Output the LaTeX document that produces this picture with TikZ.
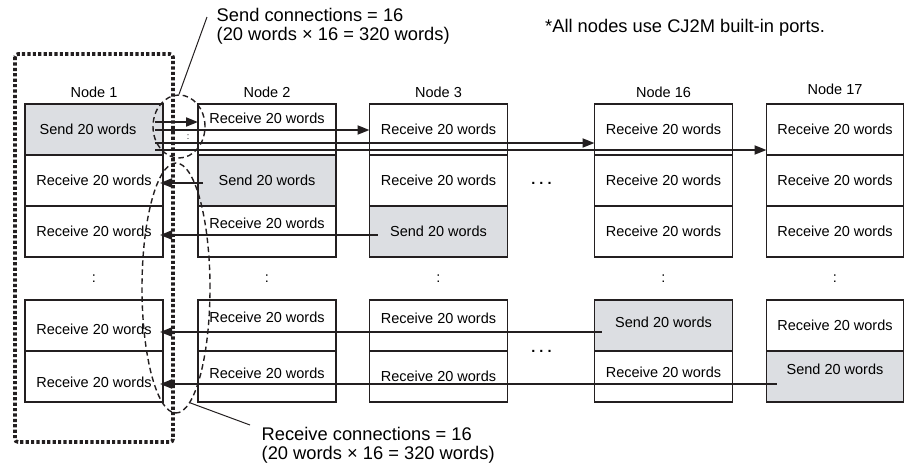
\documentclass[tikz,border=0pt]{standalone}
\usepackage{fontspec}
\setmainfont{Liberation Sans}
\usetikzlibrary{positioning, arrows.meta, shapes.geometric, calc}
\definecolor{ink}{RGB}{35,31,32}
\definecolor{sendgray}{RGB}{220,222,226}

\begin{document}
\begin{tikzpicture}[
        x=1pt, y=-1pt,
        word/.style={font=\fontsize{14.5}{17}\selectfont},
        note/.style={font=\fontsize{18.3}{19}\selectfont, align=left, inner sep=0pt},
        cell/.style={
            word,
            draw=ink,
            line width=1.8pt,
            minimum width=138pt,
            minimum height=51pt,
            inner sep=0pt,
            outer sep=0pt
        },
        sendcell/.style={cell, fill=sendgray},
        title/.style={word, inner sep=0pt},
        link/.style={ink, line width=1.8pt, -{Triangle[length=12pt,width=9pt]}},
        ring/.style={ellipse, draw=ink, line width=1.4pt, dash pattern=on 5.5pt off 3.5pt, inner sep=0pt},
        leader/.style={ink, line width=1pt},
        frame/.style={ink, line width=3.6pt, dash pattern=on 3.2pt off 2.2pt, rounded corners=3pt}
    ]
        \useasboundingbox (0,0) rectangle (904,466);

        % Node 1 column
        \node[sendcell, label={[word, xshift=-6pt]center:Send 20 words}] (n1a) at (94,129.5) {};
        \node[cell, below=0pt of n1a] (n1b) {Receive 20 words};
        \node[cell, below=0pt of n1b] (n1c) {Receive 20 words};
        \node[cell, label={[word, yshift=-3.5pt]center:Receive 20 words}] (n1y) at (94,325.5) {};
        \node[cell, below=0pt of n1y, label={[word, yshift=-5.5pt]center:Receive 20 words}] (n1z) {};
        \node[title, above=6pt of n1a] (t1) {Node 1};

        % Node 2 column
        \node[cell, label={[word, yshift=11.5pt]center:Receive 20 words}] (n2a) at (267,129.5) {};
        \node[sendcell, below=0pt of n2a] (n2b) {Send 20 words};
        \node[cell, below=0pt of n2b, label={[word, yshift=8.5pt]center:Receive 20 words}] (n2c) {};
        \node[cell, label={[word, yshift=8.5pt]center:Receive 20 words}] (n2y) at (267,325.5) {};
        \node[cell, below=0pt of n2y, label={[word, yshift=3.5pt]center:Receive 20 words}] (n2z) {};
        \node[title, above=6pt of n2a] (t2) {Node 2};

        % Node 3 column
        \node[cell] (n3a) at (438.5,129.5) {Receive 20 words};
        \node[cell, below=0pt of n3a] (n3b) {Receive 20 words};
        \node[sendcell, below=0pt of n3b] (n3c) {Send 20 words};
        \node[cell, label={[word, yshift=7.5pt]center:Receive 20 words}] (n3y) at (438.5,325.5) {};
        \node[cell, below=0pt of n3y] (n3z) {Receive 20 words};
        \node[title, above=6pt of n3a] (t3) {Node 3};

        % Node 16 column
        \node[cell] (n16a) at (663.5,129.5) {Receive 20 words};
        \node[cell, below=0pt of n16a] (n16b) {Receive 20 words};
        \node[cell, below=0pt of n16b] (n16c) {Receive 20 words};
        \node[sendcell, label={[word, yshift=3.5pt]center:Send 20 words}] (n16y) at (663.5,325.5) {};
        \node[cell, below=0pt of n16y, label={[word, yshift=4.5pt]center:Receive 20 words}] (n16z) {};
        \node[title, above=6pt of n16a] (t16) {Node 16};

        % Node 17 column
        \node[cell, minimum width=137pt] (n17a) at (835,129.5) {Receive 20 words};
        \node[cell, minimum width=137pt, below=0pt of n17a] (n17b) {Receive 20 words};
        \node[cell, minimum width=137pt, below=0pt of n17b] (n17c) {Receive 20 words};
        \node[cell, minimum width=137pt] (n17y) at (835,325.5) {Receive 20 words};
        \node[sendcell, minimum width=137pt, below=0pt of n17y, label={[word, yshift=7.5pt]center:Send 20 words}] (n17z) {};
        \node[title, above=9pt of n17a] (t17) {Node 17};

        % gaps between the two groups
        \node[word] (gap1) at ($(n1c.south)!0.5!(n1y.north)$) {:};
        \node[word] (gap2) at ($(n2c.south)!0.5!(n2y.north)$) {:};
        \node[word] (gap3) at ($(n3c.south)!0.5!(n3y.north)$) {:};
        \node[word] (gap16) at ($(n16c.south)!0.5!(n16y.north)$) {:};
        \node[word] (gap17) at ($(n17c.south)!0.5!(n17y.north)$) {:};
        \node[word] (skip1) at ([shift={(34pt,-2.5pt)}]n3b.east) {\textbf{.\ .\ .}};
        \node[word] (skip2) at ([xshift=34pt]n3y.south east) {\textbf{.\ .\ .}};
        \node[font=\fontsize{9}{10}\selectfont, inner sep=0pt] (sendgap) at ([shift={(25pt,-7.5pt)}]n1a.east) {:};

        % Send links out of node 1
        \coordinate (out1) at ([shift={(-8pt,7.5pt)}]n1a.east);
        \coordinate (out2) at ([shift={(-8pt,-0.5pt)}]n1a.east);
        \coordinate (out3) at ([shift={(-8pt,-13.5pt)}]n1a.east);
        \coordinate (out4) at ([shift={(-8pt,-20.5pt)}]n1a.east);
        \draw[link] (out1) -- (out1 -| n2a.west);
        \draw[link] (out2) -- (out2 -| n3a.west);
        \draw[link] (out3) -- (out3 -| n16a.west);
        \draw[link] (out4) -- (out4 -| n17a.west);

        % Receive links into node 1
        \coordinate (back2) at ([shift={(5pt,-2.5pt)}]n2b.west);
        \coordinate (back3) at ([shift={(8pt,-3.5pt)}]n3c.west);
        \coordinate (back16) at ([shift={(7pt,-6.5pt)}]n16y.west);
        \coordinate (back17) at ([shift={(10pt,-7.5pt)}]n17z.west);
        \draw[link] (back2) -- ([xshift=-3pt]back2 -| n1b.east);
        \draw[link] (back3) -- ([xshift=-3pt]back3 -| n1c.east);
        \draw[link] (back16) -- ([xshift=-3pt]back16 -| n1y.east);
        \draw[link] (back17) -- ([xshift=-3pt]back17 -| n1z.east);

        % Connection rings and node 1 frame
        \node[ring, minimum width=52pt, minimum height=63pt] (sendring) at (179,126.5) {};
        \node[ring, minimum width=68pt, minimum height=250pt] (recvring) at (176,288) {};
        \draw[frame] (15,54) rectangle (173,442);

        % Notes
        \node[note, anchor=north west] (sendnote) at (216.5,8.5) {Send connections = 16\\(20 words × 16 = 320 words)};
        \node[note, anchor=north west] (recvnote) at (261.5,427) {Receive connections = 16\\(20 words × 16 = 320 words)};
        \node[note, anchor=base west] (portnote) at (545,32) {*All nodes use CJ2M built-in ports.};
        \draw[leader] (sendring.north) -- ([shift={(-9.5pt,-8.5pt)}]sendnote.north west);
        \draw[leader] (recvring.-83) -- ([shift={(-11.5pt,2pt)}]recvnote.north west);
\end{tikzpicture}
\end{document}
